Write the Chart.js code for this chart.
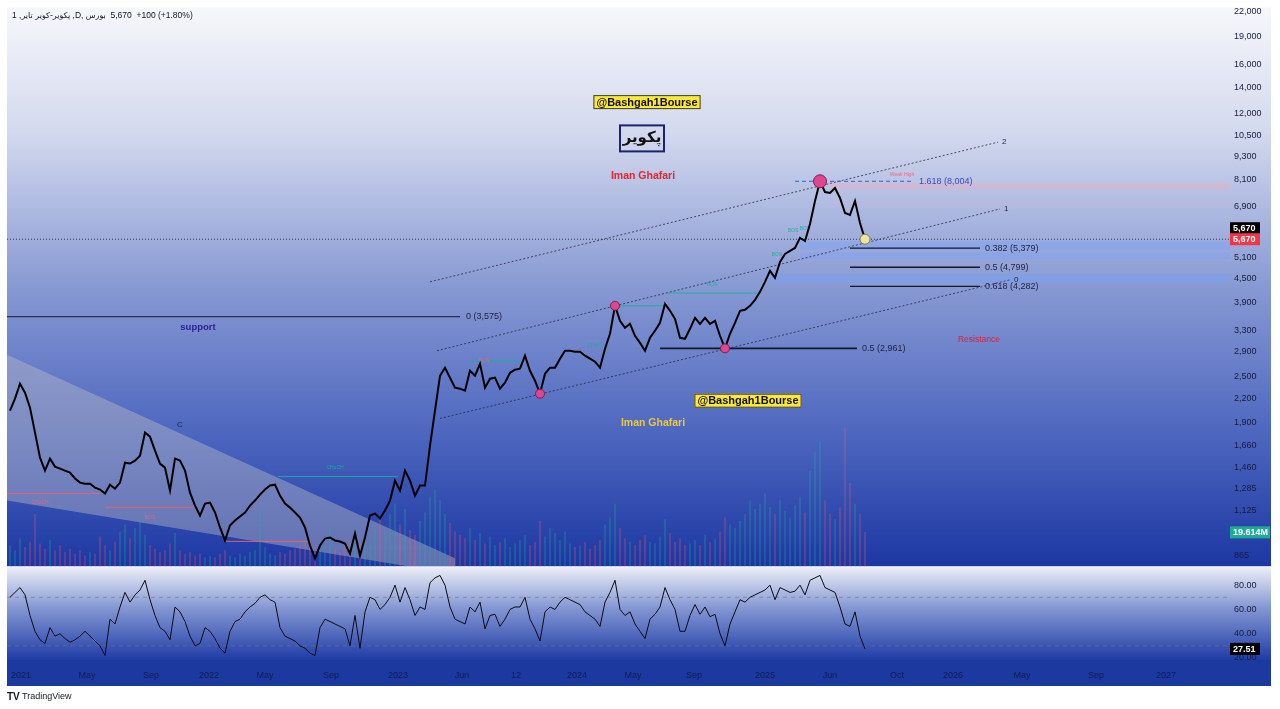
<!DOCTYPE html>
<html>
<head>
<meta charset="utf-8">
<script src="https://cdn.jsdelivr.net/npm/chart.js@4.4.1/dist/chart.umd.min.js"></script>
<style>
  html, body { margin: 0; padding: 0; background: #fff; overflow: hidden; }
</style>
</head>
<body>
<canvas id="chart" width="1280" height="709"></canvas>
<script>
const closes = [2044,2195,2400,2275,2081,1794,1545,1431,1536,1465,
  1448,1431,1414,1365,1332,1324,1324,1293,1278,1248,
  1316,1285,1332,1500,1492,1518,1564,1794,1751,1611,
  1492,1456,1270,1536,1518,1431,1255,1162,1095,1176,
  1183,1115,1020,944,1032,1063,1089,1115,1162,1197,
  1240,1278,1309,1316,1233,1176,1148,1115,1082,1020,
  916,848,916,955,961,944,938,927,873,984,
  863,961,1095,1108,1076,1128,1197,1348,1270,1431,
  1348,1233,1309,1309,1660,2044,2516,2639,2487,2344,
  2330,2302,2592,2516,2702,2344,2472,2487,2330,2414,
  2561,2608,2624,2835,2592,2443,2261,2546,2639,2639,
  2785,2920,2920,2903,2903,2835,2785,2735,2639,2954,
  3230,3815,3489,3347,3427,3192,3061,2920,3154,3288,
  3448,3861,3703,3531,3154,3135,3327,3552,3427,3552,
  3427,3489,3192,2961,3230,3448,3703,3725,3815,3953,
  4145,4400,4697,4506,4954,5196,5289,5384,5714,5613,
  6209,7119,8004,7510,7466,7691,7247,6629,6551,7119,
  6246,5670];

const rsi = [70,74,78,72,55,42,35,32,45,38,
  40,36,33,35,38,42,38,34,30,22,
  52,48,62,74,66,72,76,84,68,55,
  45,42,35,62,58,50,38,30,32,45,
  42,36,28,24,42,50,52,58,62,65,
  70,72,68,66,45,38,36,34,30,28,
  24,22,45,52,50,48,46,44,30,55,
  28,58,70,68,60,64,70,80,66,78,
  68,55,62,60,82,86,88,80,62,52,
  50,48,62,58,66,44,55,56,46,52,
  60,62,62,70,52,44,34,58,62,60,
  66,70,68,66,64,58,55,52,46,66,
  74,84,60,55,58,48,42,36,52,56,
  62,78,68,60,42,42,55,64,56,62,
  54,56,40,30,48,58,68,66,70,72,
  74,76,80,68,78,76,74,75,80,72,
  84,86,88,78,76,74,62,48,46,58,
  38,27.51];

// volume in millions
const volume = [12,9,16,11,14,30,13,10,15,9,
  12,8,10,7,9,6,8,7,17,12,
  9,14,20,24,16,22,26,18,12,10,
  8,9,13,19,9,7,8,6,7,5,
  6,5,7,9,6,5,7,6,8,9,
  32,11,7,6,8,7,9,10,12,14,
  16,11,9,13,22,10,8,12,15,19,
  14,18,16,22,27,20,30,36,24,33,
  21,18,26,31,40,44,38,30,25,20,
  18,16,22,15,19,13,17,12,14,16,
  11,13,15,18,12,14,26,17,22,19,
  15,20,13,11,12,14,10,12,15,24,
  28,36,22,16,14,12,15,18,14,13,
  17,27,19,14,16,12,13,15,12,18,
  14,16,20,28,24,22,26,30,38,33,
  36,42,34,30,38,32,28,35,40,31,
  55,66,72,38,30,27,34,80,48,36,
  30,19.614];

const tickIndex = [2.2,15.4,28.2,39.8,51,64.2,77.6,90.4,101.2,113.4,124.6,136.8,151,164,177.4,188.6,202.4,217.2,231.2];
const tickLabels = ['2021','May','Sep','2022','May','Sep','2023','Jun','12','2024','May','Sep','2025','Jun','Oct','2026','May','Sep','2027'];
const priceTicks = [865,1125,1285,1460,1660,1900,2200,2500,2900,3300,3900,4500,5100,6900,8100,9300,10500,12000,14000,16000,19000,22000];
const rsiTicks = [20,40,60,80];

const fibRatios = ['0.382','0.5','0.618'];
const fibValues = [5379,4799,4282];
const supportLevel = 3575;
const midLevel = 2961;
const extLevel = 8004;
const lastPrice = 5670;

const circleIdx = [106,121,143,162];
const headerText = ['1 ,', 'پکویر-کویر تایر', ' ,D, ', 'بورس', '  5,670', '  +100 (+1.80%)'];

const fmt = v => v.toLocaleString('en-US');
const FONT = '"Liberation Sans", Arial, sans-serif';

function line(ctx, x1, y1, x2, y2) {
  ctx.beginPath(); ctx.moveTo(x1, y1); ctx.lineTo(x2, y2); ctx.stroke();
}
function text(ctx, str, x, y, font, color, align) {
  ctx.font = font; ctx.fillStyle = color;
  ctx.textAlign = align || 'left'; ctx.textBaseline = 'middle';
  ctx.fillText(str, x, y);
}
function tag(ctx, str, x, y, w, bg) {
  ctx.fillStyle = bg;
  ctx.fillRect(x, y - 6, w, 12);
  text(ctx, str, x + 3, y + 0.5, 'bold 9px ' + FONT, '#fff');
}

const bgPlugin = {
  id: 'bg',
  beforeDraw(c) {
    const ctx = c.ctx, a = c.chartArea, y = c.scales.y, r = c.scales.yR, x = c.scales.x;
    const L = a.left, R = 1271;
    ctx.save();
    ctx.fillStyle = '#fff';
    ctx.fillRect(0, 0, c.width, c.height);

    let g = ctx.createLinearGradient(0, y.top, 0, y.bottom);
    g.addColorStop(0, '#f6f7fb');
    g.addColorStop(0.22, '#d3d9ee');
    g.addColorStop(0.5, '#8799d3');
    g.addColorStop(0.78, '#4963bd');
    g.addColorStop(1, '#1c37a2');
    ctx.fillStyle = g;
    ctx.fillRect(L, y.top - 2, R - L, y.bottom - y.top + 2);

    g = ctx.createLinearGradient(0, r.top, 0, r.bottom);
    g.addColorStop(0, '#eef0f8');
    g.addColorStop(0.45, '#8396d2');
    g.addColorStop(1, '#1f3ca6');
    ctx.fillStyle = g;
    ctx.fillRect(L, r.top + 1, R - L, r.bottom - r.top - 1);

    ctx.fillStyle = '#1c399f';
    ctx.fillRect(L, r.bottom, R - L, x.bottom - 4 - r.bottom);
    ctx.restore();
  }
};

const drawPlugin = {
  id: 'drawings',
  beforeDatasetsDraw(c) {
    const ctx = c.ctx, a = c.chartArea, X = c.scales.x, Y = c.scales.y, R = c.scales.yR;
    const px = i => X.getPixelForValue(i), py = v => Y.getPixelForValue(v);
    ctx.save();
    ctx.beginPath();
    ctx.rect(a.left, Y.top, a.right - a.left, Y.bottom - Y.top);
    ctx.clip();

    // falling wedge
    ctx.fillStyle = 'rgba(190,190,200,0.42)';
    ctx.beginPath();
    ctx.moveTo(px(-0.6), py(2853));
    ctx.lineTo(px(89), py(849));
    ctx.lineTo(px(89), py(773));
    ctx.lineTo(px(-0.6), py(1197));
    ctx.closePath();
    ctx.fill();

    // zones
    const blue = 'rgba(115,160,255,0.35)';
    [[158, 5600, 5330], [158, 5240, 5050], [152, 4600, 4380]].forEach(b => {
      ctx.fillStyle = blue;
      ctx.fillRect(px(b[0]), py(b[1]), a.right - px(b[0]), py(b[2]) - py(b[1]));
    });
    ctx.fillStyle = 'rgba(255,165,185,0.35)';
    ctx.fillRect(px(164), py(7922), a.right - px(164), py(7646) - py(7922));
    ctx.strokeStyle = 'rgba(255,165,185,0.4)';
    ctx.lineWidth = 1;
    line(ctx, px(164), py(7030), a.right, py(7030));

    // last price dotted line
    ctx.strokeStyle = 'rgba(25,25,45,0.8)';
    ctx.setLineDash([1, 2]);
    line(ctx, a.left, py(lastPrice), a.right, py(lastPrice));

    // channel lines
    ctx.strokeStyle = 'rgba(35,35,55,0.75)';
    ctx.setLineDash([2, 2]);
    const chS = [[84, 4400], [85.4, 2920], [86, 1951]];
    const chE = [[197.6, 10105], [198, 6789], [200, 4453]];
    const chN = ['2', '1', '0'];
    chS.forEach((s, k) => {
      const e = chE[k];
      line(ctx, px(s[0]), py(s[1]), px(e[0]), py(e[1]));
      text(ctx, chN[k], px(e[0]) + 4, py(e[1]), '8px ' + FONT, '#1e2240');
    });
    ctx.setLineDash([]);

    // levels
    ctx.strokeStyle = '#14162a';
    ctx.lineWidth = 1;
    line(ctx, a.left, py(supportLevel), px(90), py(supportLevel));
    text(ctx, '0 (' + fmt(supportLevel) + ')', px(91.2), py(supportLevel), '9px ' + FONT, '#1e2240');

    ctx.lineWidth = 1.6;
    line(ctx, px(130), py(midLevel), px(169.4), py(midLevel));
    text(ctx, '0.5 (' + fmt(midLevel) + ')', px(170.4), py(midLevel), '9px ' + FONT, '#1e2240');

    ctx.lineWidth = 1.3;
    fibValues.forEach((v, k) => {
      line(ctx, px(168), py(v), px(194), py(v));
      text(ctx, fibRatios[k] + ' (' + fmt(v) + ')', px(195), py(v), '9px ' + FONT, '#1e2240');
    });

    ctx.strokeStyle = '#3a5bd0';
    ctx.lineWidth = 1;
    ctx.setLineDash([4, 3]);
    line(ctx, px(157), py(extLevel), px(180.4), py(extLevel));
    ctx.setLineDash([]);
    text(ctx, '1.618 (' + fmt(extLevel) + ')', px(181.8), py(extLevel), '9px ' + FONT, '#2f4fc8');

    // structure marks
    const teal = 'rgba(25,175,155,0.9)', pink = 'rgba(245,95,115,0.9)';
    const smcLines = [[-0.6, 18, 1248, pink], [19, 37, 1151, pink], [43, 59.6, 939, pink],
      [53.6, 77.6, 1382, teal], [92, 102.6, 2740, teal], [121, 131, 3815, teal], [131.6, 149.4, 4115, teal]];
    smcLines.forEach(s => {
      ctx.strokeStyle = s[3]; ctx.lineWidth = 1;
      line(ctx, px(s[0]), py(s[2]), px(s[1]), py(s[2]));
    });
    const smcLabels = [[6, 1180, 'CHoCH', pink], [28, 1082, 'BOS', pink], [65, 1453, 'CHoCH', teal],
      [140.4, 4330, 'BOS', teal], [178.4, 8307, 'Weak High', pink], [153.4, 5185, 'BOS', teal],
      [156.6, 5957, 'BOS', teal], [159, 6030, 'BOS', teal], [94.8, 2751, 'BOS', pink], [117.2, 3007, 'CHoCH', teal]];
    smcLabels.forEach(s => text(ctx, s[2], px(s[0]), py(s[1]), '5px ' + FONT, s[3], 'center'));

    text(ctx, 'C', px(34), py(1880), '8px ' + FONT, '#1e2240', 'center');
    ctx.restore();

    // RSI bands
    ctx.save();
    ctx.strokeStyle = 'rgba(110,115,135,0.6)';
    ctx.setLineDash([4, 4]);
    ctx.lineWidth = 1;
    [70, 30].forEach(v => line(ctx, a.left, R.getPixelForValue(v), a.right, R.getPixelForValue(v)));
    ctx.restore();
  },
  afterDatasetsDraw(c) {
    const ctx = c.ctx, X = c.scales.x, Y = c.scales.y;
    const px = i => X.getPixelForValue(i), py = v => Y.getPixelForValue(v);
    ctx.save();
    circleIdx.forEach((i, k) => {
      ctx.beginPath();
      ctx.arc(px(i), py(closes[i]), k === 3 ? 6.5 : 4.5, 0, Math.PI * 2);
      ctx.fillStyle = '#e0468f'; ctx.fill();
      ctx.strokeStyle = '#7a1d52'; ctx.lineWidth = 1; ctx.stroke();
    });
    const li = closes.length - 1;
    ctx.beginPath();
    ctx.arc(px(li), py(closes[li]), 5, 0, Math.PI * 2);
    ctx.fillStyle = '#eee49c'; ctx.fill();
    ctx.strokeStyle = '#7d7a60'; ctx.stroke();

    // watermarks
    const boxed = (str, cx, cy) => {
      ctx.font = 'bold 11px ' + FONT;
      const w = ctx.measureText(str).width + 6;
      ctx.fillStyle = '#fbe83a';
      ctx.fillRect(cx - w / 2, cy - 7, w, 14);
      ctx.strokeStyle = '#3a3a3a'; ctx.lineWidth = 1;
      ctx.strokeRect(cx - w / 2 + 0.5, cy - 6.5, w - 1, 13);
      text(ctx, str, cx, cy + 0.5, 'bold 11px ' + FONT, '#111', 'center');
    };
    boxed('@Bashgah1Bourse', px(127.4), py(12822));
    boxed('@Bashgah1Bourse', px(147.6), py(2169));

    const bx = px(126.4), by = py(10332);
    ctx.strokeStyle = '#1c2470'; ctx.lineWidth = 2;
    ctx.strokeRect(bx - 22, by - 13, 44, 26);
    text(ctx, 'پکویر', bx, by, 'bold 15px "DejaVu Sans"', '#111', 'center');

    text(ctx, 'Iman Ghafari', px(126.6), py(8258), 'bold 10.5px ' + FONT, '#e2262e', 'center');
    text(ctx, 'Iman Ghafari', px(128.6), py(1894), 'bold 10.5px ' + FONT, '#ecc83c', 'center');
    text(ctx, 'support', px(37.6), py(3349), 'bold 9.5px ' + FONT, '#2a2196', 'center');
    text(ctx, 'Resistance', px(193.8), py(3117), '8.5px ' + FONT, '#d8233b', 'center');
    ctx.restore();
  },
  afterDraw(c) {
    const ctx = c.ctx, a = c.chartArea, Y = c.scales.y, R = c.scales.yR, V = c.scales.yV;
    ctx.save();
    const yp = Y.getPixelForValue(lastPrice);
    tag(ctx, fmt(lastPrice), a.right, yp - 11, 30, '#000');
    tag(ctx, fmt(lastPrice), a.right, yp, 30, '#f23645');
    tag(ctx, volume[volume.length - 1].toFixed(3) + 'M', a.right, V.getPixelForValue(volume[volume.length - 1]), 40, '#22ab94');
    tag(ctx, rsi[rsi.length - 1].toFixed(2), a.right, R.getPixelForValue(rsi[rsi.length - 1]), 30, '#000');

    // header
    let hx = 12;
    headerText.forEach(s => {
      const f = /[\u0600-\u06FF]/.test(s) ? '8px "DejaVu Sans"' : '8.5px ' + FONT;
      text(ctx, s, hx, 16, f, '#131722');
      hx += ctx.measureText(s).width;
    });

    // logo
    text(ctx, 'TV', 7, 697, 'bold 10px ' + FONT, '#131722');
    text(ctx, 'TradingView', 22, 697, '9px ' + FONT, '#131722');
    ctx.restore();
  }
};

Chart.defaults.font.family = FONT;

new Chart('chart', {
  type: 'line',
  data: {
    datasets: [{
      label: 'price',
      data: closes.map((v, i) => ({ x: i, y: v })),
      borderColor: '#000',
      borderWidth: 2,
      pointRadius: 0,
      yAxisID: 'y'
    }, {
      label: 'RSI',
      data: rsi.map((v, i) => ({ x: i, y: v })),
      borderColor: '#0a0a14',
      borderWidth: 1,
      pointRadius: 0,
      yAxisID: 'yR'
    }, {
      type: 'bar',
      label: 'volume',
      data: volume.map((v, i) => ({ x: i, y: v })),
      backgroundColor: ctx => {
        const i = ctx.dataIndex;
        return i > 0 && closes[i] < closes[i - 1] ? 'rgba(240,90,110,0.25)' : 'rgba(40,175,160,0.25)';
      },
      barThickness: 1.5,
      yAxisID: 'yV'
    }]
  },
  options: {
    responsive: false,
    animation: false,
    layout: { padding: { left: 7, top: 8, right: 0, bottom: 19 } },
    plugins: { legend: { display: false }, tooltip: { enabled: false } },
    scales: {
      x: {
        type: 'linear',
        min: -0.6,
        max: 244,
        offset: false,
        grid: { display: false, drawTicks: false },
        border: { display: false },
        afterBuildTicks: s => { s.ticks = tickIndex.map(v => ({ value: v })); },
        afterFit: s => { s.height = 30; },
        ticks: {
          autoSkip: false,
          maxRotation: 0,
          padding: 10,
          color: '#0f1c56',
          font: { size: 9 },
          callback: v => { const k = tickIndex.indexOf(v); return k >= 0 ? tickLabels[k] : ''; }
        }
      },
      y: {
        type: 'logarithmic',
        position: 'right',
        stack: 'panes',
        stackWeight: 558,
        min: 810,
        max: 22263,
        grid: { display: false, drawTicks: false },
        border: { display: false },
        afterBuildTicks: s => { s.ticks = priceTicks.map(v => ({ value: v })); },
        afterFit: s => { s.width = 50; },
        ticks: { autoSkip: false, padding: 4, color: '#161c3c', font: { size: 9 }, callback: v => fmt(v) }
      },
      yR: {
        type: 'linear',
        position: 'right',
        stack: 'panes',
        stackWeight: 94,
        min: 18.35,
        max: 95.6,
        grid: { display: false, drawTicks: false },
        border: { display: false },
        afterBuildTicks: s => { s.ticks = rsiTicks.map(v => ({ value: v })); },
        afterFit: s => { s.width = 50; },
        ticks: { autoSkip: false, padding: 4, color: '#161c3c', font: { size: 9 }, callback: v => v.toFixed(2) }
      },
      yV: {
        type: 'linear',
        display: false,
        min: -54.3,
        max: 322.5
      }
    }
  },
  plugins: [bgPlugin, drawPlugin]
});
</script>
</body>
</html>
